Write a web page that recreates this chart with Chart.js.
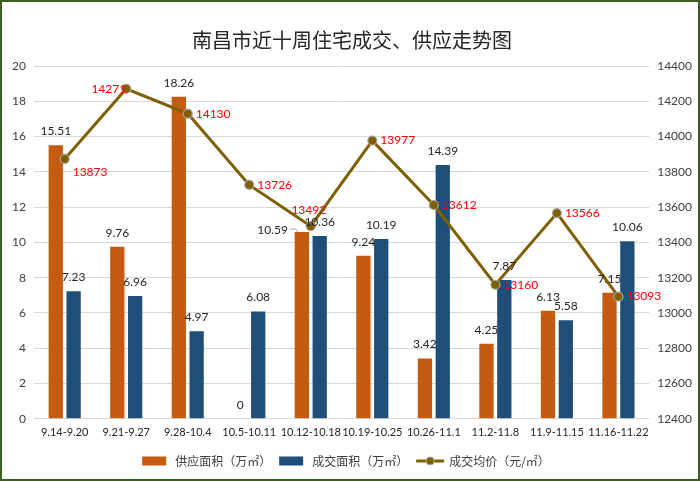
<!DOCTYPE html>
<html>
<head>
<meta charset="utf-8">
<script src="https://cdn.jsdelivr.net/npm/chart.js@4.4.0/dist/chart.umd.min.js"></script>
<style>
  html, body { margin: 0; padding: 0; background: #fff; }
  #wrap { width: 700px; height: 481px; position: relative; }
</style>
</head>
<body>
<div id="wrap"><canvas id="grafico" width="700" height="481"></canvas></div>
<script>
// dati
const weeks = ['9.14-9.20', '9.21-9.27', '9.28-10.4', '10.5-10.11', '10.12-10.18', '10.19-10.25', '10.26-11.1', '11.2-11.8', '11.9-11.15', '11.16-11.22'];
const supplyArea = [15.51, 9.76, 18.26, 0, 10.59, 9.24, 3.42, 4.25, 6.13, 7.15];
const dealArea = [7.23, 6.96, 4.97, 6.08, 10.36, 10.19, 14.39, 7.87, 5.58, 10.06];
const avgPrice = [13873, 14271, 14130, 13726, 13492, 13977, 13612, 13160, 13566, 13093];
const seriesNames = ['供应面积（万㎡）', '成交面积（万㎡）', '成交均价（元/㎡）'];

// stile
const colori = ['#C55A11', '#1F4E79', '#7F6000'];
const fontNum = 'Lato, "Noto Sans CJK SC", sans-serif';
const fontCjk = '"Noto Sans CJK SC", sans-serif';
// dove mettere le etichette rosse rispetto al punto
const posPrezzo = ['rightBelow', 'left', 'right', 'right', 'above', 'right', 'right', 'right', 'right', 'right'];

const etichette = {
  id: 'etichette',
  afterDatasetsDraw(chart) {
    const ctx = chart.ctx;
    ctx.save();
    ctx.font = '12px ' + fontNum;
    // etichette delle barre
    [0, 1].forEach(i => {
      const meta = chart.getDatasetMeta(i);
      meta.data.forEach((el, j) => {
        const txt = String(chart.data.datasets[i].data[j]);
        ctx.fillStyle = '#262626';
        ctx.textBaseline = 'bottom';
        if (i === 0 && j === 4) {
          // 10.59 spostata a sinistra con la linetta
          ctx.textAlign = 'right';
          ctx.textBaseline = 'middle';
          ctx.fillText(txt, el.x - 14, el.y - 2);
          ctx.strokeStyle = '#A6A6A6';
          ctx.lineWidth = 1;
          ctx.beginPath();
          ctx.moveTo(el.x - 12, el.y - 3);
          ctx.lineTo(el.x - 6, el.y - 3);
          ctx.lineTo(el.x - 4, el.y);
          ctx.stroke();
          return;
        }
        ctx.textAlign = 'center';
        ctx.fillText(txt, el.x, el.y - 8);
      });
    });
    // etichette del prezzo
    const meta = chart.getDatasetMeta(2);
    meta.data.forEach((el, j) => {
      const v = String(avgPrice[j]);
      ctx.fillStyle = '#FF0000';
      ctx.textBaseline = 'middle';
      let x = el.x + 8, y = el.y;
      ctx.textAlign = 'left';
      if (posPrezzo[j] === 'rightBelow') { y = el.y + 13; }
      if (posPrezzo[j] === 'left') { ctx.textAlign = 'right'; x = el.x; y = el.y; }
      if (posPrezzo[j] === 'above') { ctx.textAlign = 'center'; x = el.x - 2; y = el.y - 16; }
      ctx.fillText(v, x, y);
    });
    ctx.restore();
  },
  afterDraw(chart) {
    const ctx = chart.ctx;
    ctx.save();
    // legenda
    ctx.font = '12px ' + fontCjk;
    ctx.textBaseline = 'middle';
    const y = 461;
    const widths = seriesNames.map(n => ctx.measureText(n).width);
    const symW = 28, gap = 5, sep = 8;
    let total = 0;
    widths.forEach(w => total += symW + gap + w + sep);
    total -= sep;
    let x = 346 - total / 2;
    seriesNames.forEach((n, i) => {
      if (i < 2) {
        ctx.fillStyle = colori[i];
        ctx.fillRect(x, y - 4.5, symW - 4, 9);
      } else {
        ctx.strokeStyle = colori[2];
        ctx.lineWidth = 3;
        ctx.beginPath();
        ctx.moveTo(x, y);
        ctx.lineTo(x + symW, y);
        ctx.stroke();
        ctx.fillStyle = colori[2];
        ctx.strokeStyle = '#A6A6A6';
        ctx.lineWidth = 1;
        ctx.beginPath();
        ctx.arc(x + symW / 2, y, 4, 0, Math.PI * 2);
        ctx.fill();
        ctx.stroke();
      }
      ctx.fillStyle = '#404040';
      ctx.textAlign = 'left';
      ctx.fillText(n, x + symW + gap, y);
      x += symW + gap + widths[i] + sep;
    });
    // cornice
    ctx.strokeStyle = '#3B5E1F';
    ctx.lineWidth = 2;
    ctx.strokeRect(1, 1, chart.width - 2, chart.height - 2);
    ctx.restore();
  }
};

const grafico = new Chart('grafico', {
  type: 'bar',
  data: {
    labels: weeks,
    datasets: [
      {
        label: seriesNames[0],
        data: supplyArea,
        backgroundColor: colori[0],
        yAxisID: 'y',
        order: 2,
        categoryPercentage: 0.58,
        barPercentage: 0.8
      },
      {
        label: seriesNames[1],
        data: dealArea,
        backgroundColor: colori[1],
        yAxisID: 'y',
        order: 2,
        categoryPercentage: 0.58,
        barPercentage: 0.8
      },
      {
        type: 'line',
        label: seriesNames[2],
        data: avgPrice,
        borderColor: colori[2],
        backgroundColor: colori[2],
        borderWidth: 3,
        pointRadius: 4.5,
        pointBorderColor: '#A6A6A6',
        pointBorderWidth: 1.2,
        pointBackgroundColor: colori[2],
        tension: 0,
        yAxisID: 'y1',
        order: 1
      }
    ]
  },
  options: {
    responsive: false,
    animation: false,
    devicePixelRatio: 1,
    layout: { padding: { left: 4, right: 0, top: 2, bottom: 43 } },
    plugins: {
      legend: { display: false },
      tooltip: { enabled: false },
      title: {
        display: true,
        text: '南昌市近十周住宅成交、供应走势图',
        color: '#262626',
        font: { family: fontCjk, size: 20, weight: 'normal' },
        padding: { top: 26, bottom: 14 }
      }
    },
    scales: {
      x: {
        grid: { display: false },
        border: { display: false },
        ticks: { color: '#262626', font: { family: fontNum, size: 11 }, maxRotation: 0, autoSkip: false, padding: -1 }
      },
      y: {
        position: 'left',
        min: 0,
        max: 20,
        ticks: { stepSize: 2, color: '#404040', font: { family: fontNum, size: 12 }, padding: 8 },
        grid: { color: '#D9D9D9', lineWidth: 1, drawTicks: false },
        border: { display: false }
      },
      y1: {
        position: 'right',
        min: 12400,
        max: 14400,
        ticks: {
          stepSize: 200, color: '#404040', font: { family: fontNum, size: 12 }, padding: 8,
          callback: v => String(v)
        },
        grid: { drawOnChartArea: false, drawTicks: false },
        border: { display: false }
      }
    }
  },
  plugins: [etichette]
});
</script>
</body>
</html>
